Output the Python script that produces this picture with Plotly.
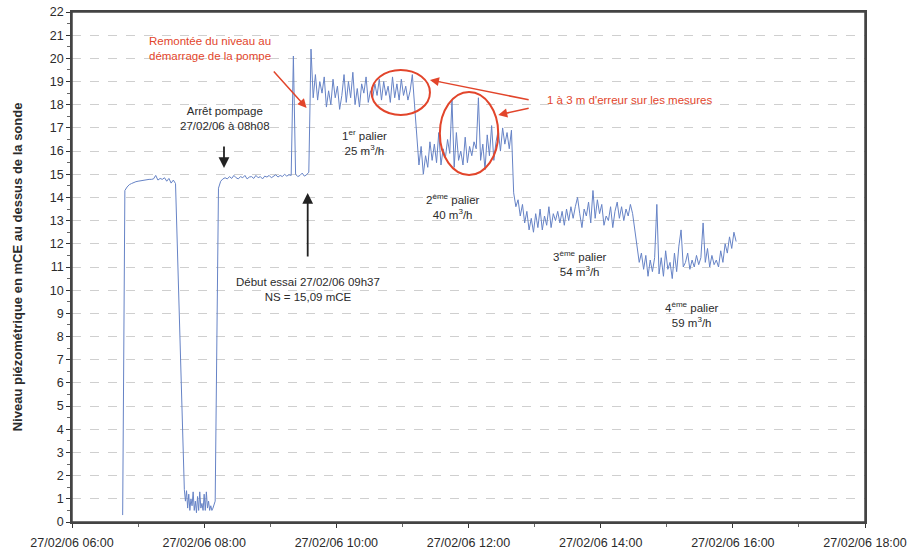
import pandas as pd
import plotly.graph_objects as go

# ---- data ----
day = "2006-02-27"

pre_start = "06:46"   # 2-min logging
pre_vals = [0.3, 14.3, 14.45, 14.55, 14.6, 14.65, 14.68, 14.7, 14.72, 14.73, 14.75, 14.76,
            14.78, 14.78, 14.8, 14.95, 14.75, 14.82, 14.78, 14.85, 14.7, 14.82, 14.62, 14.75, 14.6]

pump_start = "07:42"  # 1-min logging
pump_vals = [1.4, 0.9, 1.35, 0.6, 1.2, 0.5, 1.0, 0.7, 1.3, 0.5, 0.9, 0.4, 1.1, 0.5, 1.3,
             0.6, 0.8, 0.5, 1.2, 0.5, 1.3, 0.6, 0.9, 0.5, 0.7, 0.5, 0.6, 0.8, 0.9]

rec_start = "08:13"   # 2-min logging
rec_vals = [14.4, 14.7, 14.8, 14.85, 14.8, 14.9, 14.82, 14.95, 14.85, 14.8, 14.9, 14.85,
            14.95, 14.8, 14.88, 14.9, 14.82, 14.95, 14.85, 14.9, 14.8, 14.92, 14.88, 14.95,
            14.85, 14.9, 14.98, 14.88, 14.95, 14.9, 15.0, 14.92, 14.98, 14.95, 20.1, 15.0,
            14.9, 14.95, 15.05, 14.92, 14.98, 15.09]

p1_start = "09:37"
p1_vals = [20.4, 18.3, 19.3, 18.2, 19.0, 18.5, 19.2, 17.9, 18.6, 18.0, 19.1, 18.3, 18.8,
           17.8, 18.4, 19.3, 18.1, 19.0, 18.3, 19.4, 18.0, 18.7, 17.9, 18.9, 18.5, 19.2,
           18.1, 18.6, 18.3, 18.9, 18.4, 19.1, 18.2, 19.0, 18.4, 18.8, 18.1, 19.2, 18.3,
           18.9, 18.2, 19.1, 18.4, 18.8, 18.2, 18.6, 19.3, 18.0]

p2_start = "11:13"
p2_vals = [16.6, 15.4, 16.2, 15.0, 15.8, 15.3, 16.4, 15.6, 16.3, 15.5, 16.8, 15.4, 16.1,
           15.7, 16.5, 15.9, 18.2, 15.3, 16.8, 15.6, 16.0, 15.4, 16.6, 15.5, 16.2, 15.8,
           16.4, 16.1, 18.3, 15.6, 16.3, 15.2, 16.7, 15.8, 17.1, 15.6, 16.4, 16.9, 16.0,
           17.0, 16.3, 16.8, 16.1, 16.9]

p3_start = "12:41"
p3_vals = [14.2, 13.6, 13.9, 13.2, 13.7, 12.9, 13.4, 12.6, 13.1, 12.5, 13.3, 12.7, 13.5,
           12.6, 13.2, 12.8, 13.6, 12.7, 13.3, 13.0, 13.4, 12.9, 13.4, 12.8, 13.5, 13.0,
           13.6, 13.1, 13.6, 14.0, 13.3, 12.7, 13.5, 13.2, 13.8, 12.9, 14.3, 13.1, 13.9,
           13.3, 13.7, 12.8, 13.2, 13.0, 13.6, 12.7, 13.4, 13.8, 13.1, 13.6, 13.0, 13.5,
           13.2, 13.7, 13.3, 12.6]

p4_start = "14:33"
p4_vals = [11.8, 11.2, 11.6, 10.9, 11.5, 10.6, 11.3, 10.8, 11.4, 13.7, 10.7, 11.4, 10.6,
           11.7, 10.9, 11.2, 10.5, 11.6, 10.8, 11.9, 12.6, 11.0, 11.2, 11.6, 10.9, 11.3,
           11.0, 11.5, 11.1, 11.4, 12.9, 11.2, 11.8, 11.0, 11.5, 11.1, 11.3, 11.0, 11.7,
           11.2, 12.0, 11.6, 12.3, 11.8, 12.5, 12.1]

segments = [(pre_start, "2min", pre_vals), (pump_start, "1min", pump_vals),
            (rec_start, "2min", rec_vals), (p1_start, "2min", p1_vals),
            (p2_start, "2min", p2_vals), (p3_start, "2min", p3_vals),
            (p4_start, "2min", p4_vals)]

times, levels = [], []
for start, freq, vals in segments:
    times.extend(pd.date_range(f"{day} {start}", periods=len(vals), freq=freq))
    levels.extend(vals)

x_range = [f"{day} 06:00", f"{day} 18:00"]

RED = "#e2452b"
TXT = "#2b2b2b"
FONT = "Liberation Sans, Arial, sans-serif"

def t(hm):
    return f"{day} {hm}"

fig = go.Figure()
fig.add_trace(go.Scatter(x=times, y=levels, mode="lines",
                         line=dict(color="#6683c6", width=1), hoverinfo="skip",
                         showlegend=False))

fig.update_layout(
    width=911, height=550,
    margin=dict(l=72, r=46, t=12, b=28),
    paper_bgcolor="white", plot_bgcolor="white",
    font=dict(family=FONT, size=12, color=TXT),
    showlegend=False,
)
fig.update_xaxes(
    type="date", range=x_range, dtick=7200000, tickformat="%d/%m/%y %H:%M",
    ticks="outside", ticklen=4, tickcolor="#333", showgrid=False,
    showline=True, linecolor="#444", linewidth=1.5, mirror=True,
    minor=dict(dtick=3600000, ticks="outside", ticklen=3, tickcolor="#666"),
    tickfont=dict(size=12.5, color=TXT), zeroline=False, automargin=False,
    ticklabelstandoff=4, ticklabeloverflow="allow",
)
fig.update_yaxes(
    range=[0, 22], dtick=1, ticks="outside", ticklen=4, tickcolor="#333",
    showgrid=True, gridcolor="#cfcfcf", griddash="dash", gridwidth=1,
    showline=True, linecolor="#444", linewidth=1.5, mirror=True,
    minor=dict(dtick=0.5, ticks="outside", ticklen=3, tickcolor="#666"),
    tickfont=dict(size=12.5, color=TXT), zeroline=False, automargin=False,
    ticklabeloverflow="allow",
)

# plot frame
fig.add_shape(type="rect", xref="paper", yref="paper", x0=0, x1=1, y0=0, y1=1,
              line=dict(color="#444", width=1.5), layer="above")

# y-axis title
fig.add_annotation(x=-0.069, y=0.5, xref="paper", yref="paper", textangle=-90,
                   xanchor="center", yanchor="middle",
                   text="<b>Niveau piézométrique en mCE au dessus de la sonde</b>",
                   showarrow=False, font=dict(family=FONT, size=13, color=TXT))

# texts
def txt(x, y, s, color=TXT):
    fig.add_annotation(x=t(x), y=y, text=s, showarrow=False, xref="x", yref="y",
                       font=dict(family=FONT, size=11.5, color=color), align="center")

txt("08:05", 20.43, "Remontée du niveau au<br>démarrage de la pompe", RED)
txt("08:19", 17.39, "Arrêt pompage<br>27/02/06 à 08h08")
txt("09:34", 10.05, "Début essai 27/02/06 09h37<br>NS = 15,09 mCE")
txt("10:26", 16.35, "1<sup>er</sup> palier<br>25 m<sup>3</sup>/h")
txt("11:46", 13.6, "2<sup>ème</sup> palier<br>40 m<sup>3</sup>/h")
txt("13:41", 11.17, "3<sup>ème</sup> palier<br>54 m<sup>3</sup>/h")
txt("15:23", 8.97, "4<sup>ème</sup> palier<br>59 m<sup>3</sup>/h")
txt("14:26", 18.2, "1 à 3 m d'erreur sur les mesures", RED)

# arrows
def arrow(x0, y0, x1, y1, color, width=1.5):
    fig.add_annotation(x=t(x1), y=y1, ax=t(x0), ay=y0, xref="x", yref="y",
                       axref="x", ayref="y", text="", showarrow=True,
                       arrowhead=2, arrowsize=1.2, arrowwidth=width, arrowcolor=color)

arrow("09:02", 19.5, "09:33", 17.86, RED)
arrow("08:18", 16.26, "08:18", 15.27, "#222", 1.8)
arrow("09:34", 11.39, "09:34", 14.19, "#222", 1.8)
arrow("12:56", 18.2, "11:25", 19.07, RED)
arrow("12:56", 17.86, "12:27", 17.56, RED)

# ellipses
fig.add_shape(type="circle", xref="x", yref="y", x0=t("10:32"), x1=t("11:25"),
              y0=17.56, y1=19.5, line=dict(color=RED, width=2))
fig.add_shape(type="circle", xref="x", yref="y", x0=t("11:34"), x1=t("12:27"),
              y0=14.97, y1=18.55, line=dict(color=RED, width=2))

fig.write_html("out.html", config={"displayModeBar": False},
               post_script="document.body.style.margin='0';document.body.style.overflow='hidden';")
